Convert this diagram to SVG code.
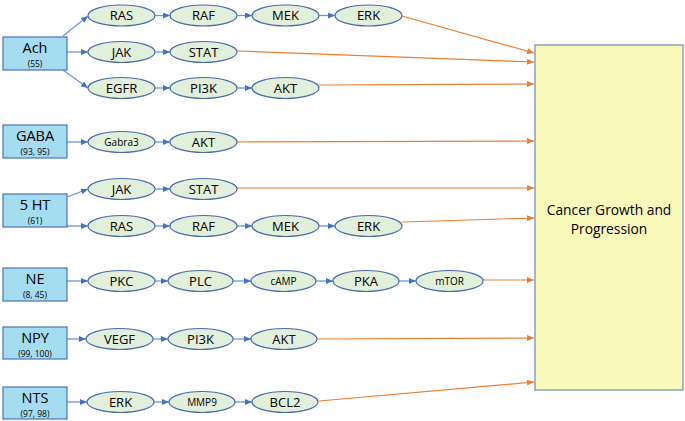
<svg xmlns="http://www.w3.org/2000/svg" width="685" height="421" viewBox="0 0 685 421">
<defs>
<marker id="ab" markerUnits="userSpaceOnUse" markerWidth="7" markerHeight="6" refX="7" refY="3" orient="auto"><path d="M0,0 L7,3 L0,6 z" fill="#4472c4"/></marker>
<marker id="ao" markerUnits="userSpaceOnUse" markerWidth="7" markerHeight="6" refX="7" refY="3" orient="auto"><path d="M0,0 L7,3 L0,6 z" fill="#ed7d31"/></marker>
</defs>
<style>
.src{fill:#a6dcef;stroke:#4a72b8;stroke-width:1.2}
.n{fill:#e2efda;stroke:#4a6aa8;stroke-width:1.2}
.t{font-family:"Open Sans","Liberation Sans",sans-serif;fill:#000;text-anchor:middle}
.big{font-size:14.5px}
.sm{font-size:8.5px}
.el{font-size:13px}
.els{font-size:10px}
.b{stroke:#6f93d6;stroke-width:1.3;fill:none;marker-end:url(#ab)}
.o{stroke:#ed7d31;stroke-width:1.2;fill:none;marker-end:url(#ao)}
</style>
<rect width="685" height="421" fill="#fff"/>
<g id="connectors">
<line class="b" x1="63" y1="36" x2="88" y2="16"/>
<line class="b" x1="67" y1="52" x2="88" y2="52"/>
<line class="b" x1="63" y1="70" x2="88" y2="88"/>
<line class="b" x1="155" y1="15.5" x2="170" y2="15.5"/>
<line class="b" x1="237" y1="15.5" x2="252" y2="15.5"/>
<line class="b" x1="319" y1="15.5" x2="335" y2="15.5"/>
<line class="b" x1="155" y1="52" x2="170" y2="52"/>
<line class="b" x1="155" y1="88" x2="170" y2="88"/>
<line class="b" x1="237" y1="88" x2="252" y2="88"/>
<line class="b" x1="67" y1="142" x2="88" y2="142"/>
<line class="b" x1="155" y1="142" x2="170" y2="142"/>
<line class="b" x1="67" y1="197" x2="88" y2="189"/>
<line class="b" x1="67" y1="226" x2="88" y2="226"/>
<line class="b" x1="155" y1="189" x2="170" y2="189"/>
<line class="b" x1="155" y1="226" x2="170" y2="226"/>
<line class="b" x1="237" y1="226" x2="252" y2="226"/>
<line class="b" x1="319" y1="226" x2="335" y2="226"/>
<line class="b" x1="67" y1="281" x2="88" y2="281"/>
<line class="b" x1="155" y1="281" x2="168" y2="281"/>
<line class="b" x1="233" y1="281" x2="251" y2="281"/>
<line class="b" x1="316" y1="281" x2="333" y2="281"/>
<line class="b" x1="399" y1="281" x2="416" y2="281"/>
<line class="b" x1="67" y1="339" x2="86" y2="339"/>
<line class="b" x1="153" y1="339" x2="168" y2="339"/>
<line class="b" x1="233" y1="339" x2="251" y2="339"/>
<line class="b" x1="67" y1="402" x2="87" y2="402"/>
<line class="b" x1="154" y1="402" x2="169" y2="402"/>
<line class="b" x1="235" y1="402" x2="252" y2="402"/>
<line class="o" x1="402" y1="16" x2="534" y2="53"/>
<line class="o" x1="237" y1="51" x2="534" y2="62"/>
<line class="o" x1="319" y1="85" x2="534" y2="84"/>
<line class="o" x1="237" y1="142" x2="534" y2="141"/>
<line class="o" x1="237" y1="188" x2="534" y2="188"/>
<line class="o" x1="402" y1="222" x2="534" y2="218"/>
<line class="o" x1="483" y1="280" x2="534" y2="280"/>
<line class="o" x1="317" y1="339" x2="534" y2="338"/>
<line class="o" x1="319" y1="401" x2="534" y2="382"/>
</g>
<g id="cancer"><rect x="535" y="45" width="148" height="345" fill="#f9f9b9" stroke="#6f87b5" stroke-width="1.2"/>
<text class="t" x="609" y="215" font-size="13.8">Cancer Growth and</text>
<text class="t" x="609" y="234" font-size="13.8">Progression</text></g>
<g id="ach"><rect class="src" x="3" y="37" width="64" height="33"/><text class="t big" x="35" y="52.5">Ach</text><text class="t sm" x="35" y="66.5">(55)</text></g>
<g id="gaba"><rect class="src" x="3" y="125" width="64" height="33"/><text class="t big" x="35" y="140.5">GABA</text><text class="t sm" x="35" y="154.5">(93, 95)</text></g>
<g id="ht5"><rect class="src" x="3" y="194" width="64" height="33"/><text class="t big" x="35" y="209.5">5 HT</text><text class="t sm" x="35" y="223.5">(61)</text></g>
<g id="ne"><rect class="src" x="3" y="268" width="64" height="33"/><text class="t big" x="35" y="283.5">NE</text><text class="t sm" x="35" y="297.5">(8, 45)</text></g>
<g id="npy"><rect class="src" x="3" y="327" width="64" height="32"/><text class="t big" x="35" y="342.5">NPY</text><text class="t sm" x="35" y="356.5">(99, 100)</text></g>
<g id="nts"><rect class="src" x="3" y="387" width="64" height="32"/><text class="t big" x="35" y="402.5">NTS</text><text class="t sm" x="35" y="416.5">(97, 98)</text></g>
<g id="ach-ras"><ellipse class="n" cx="121.5" cy="15.5" rx="33.5" ry="10.5"/><text class="t el" x="121.5" y="20">RAS</text></g>
<g id="ach-raf"><ellipse class="n" cx="203.5" cy="15.5" rx="33.5" ry="10.5"/><text class="t el" x="203.5" y="20">RAF</text></g>
<g id="ach-mek"><ellipse class="n" cx="285.5" cy="15.5" rx="33.5" ry="10.5"/><text class="t el" x="285.5" y="20">MEK</text></g>
<g id="ach-erk"><ellipse class="n" cx="368.5" cy="15.5" rx="33.5" ry="10.5"/><text class="t el" x="368.5" y="20">ERK</text></g>
<g id="ach-jak"><ellipse class="n" cx="121.5" cy="52" rx="33.5" ry="10.5"/><text class="t el" x="121.5" y="56.5">JAK</text></g>
<g id="ach-stat"><ellipse class="n" cx="203.5" cy="52" rx="33.5" ry="10.5"/><text class="t el" x="203.5" y="56.5">STAT</text></g>
<g id="ach-egfr"><ellipse class="n" cx="121.5" cy="88" rx="33.5" ry="10.5"/><text class="t el" x="121.5" y="92.5">EGFR</text></g>
<g id="ach-pi3k"><ellipse class="n" cx="203.5" cy="88" rx="33.5" ry="10.5"/><text class="t el" x="203.5" y="92.5">PI3K</text></g>
<g id="ach-akt"><ellipse class="n" cx="285.5" cy="88" rx="33.5" ry="10.5"/><text class="t el" x="285.5" y="92.5">AKT</text></g>
<g id="gaba-gabra3"><ellipse class="n" cx="121.5" cy="142" rx="33.5" ry="10.5"/><text class="t els" x="121.5" y="145.5">Gabra3</text></g>
<g id="gaba-akt"><ellipse class="n" cx="203.5" cy="142" rx="33.5" ry="10.5"/><text class="t el" x="203.5" y="146.5">AKT</text></g>
<g id="ht-jak"><ellipse class="n" cx="121.5" cy="189" rx="33.5" ry="10.5"/><text class="t el" x="121.5" y="193.5">JAK</text></g>
<g id="ht-stat"><ellipse class="n" cx="203.5" cy="189" rx="33.5" ry="10.5"/><text class="t el" x="203.5" y="193.5">STAT</text></g>
<g id="ht-ras"><ellipse class="n" cx="121.5" cy="226" rx="33.5" ry="10.5"/><text class="t el" x="121.5" y="230.5">RAS</text></g>
<g id="ht-raf"><ellipse class="n" cx="203.5" cy="226" rx="33.5" ry="10.5"/><text class="t el" x="203.5" y="230.5">RAF</text></g>
<g id="ht-mek"><ellipse class="n" cx="285.5" cy="226" rx="33.5" ry="10.5"/><text class="t el" x="285.5" y="230.5">MEK</text></g>
<g id="ht-erk"><ellipse class="n" cx="368.5" cy="226" rx="33.5" ry="10.5"/><text class="t el" x="368.5" y="230.5">ERK</text></g>
<g id="ne-pkc"><ellipse class="n" cx="121.5" cy="281" rx="33.5" ry="10.5"/><text class="t el" x="121.5" y="285.5">PKC</text></g>
<g id="ne-plc"><ellipse class="n" cx="200.5" cy="281" rx="32.5" ry="10.5"/><text class="t el" x="200.5" y="285.5">PLC</text></g>
<g id="ne-camp"><ellipse class="n" cx="283.5" cy="281" rx="32.5" ry="10.5"/><text class="t els" x="283.5" y="284.5" font-size="11">cAMP</text></g>
<g id="ne-pka"><ellipse class="n" cx="366" cy="281" rx="33" ry="10.5"/><text class="t el" x="366" y="285.5">PKA</text></g>
<g id="ne-mtor"><ellipse class="n" cx="449.5" cy="281" rx="33.5" ry="10.5"/><text class="t els" x="449.5" y="284.5" font-size="11">mTOR</text></g>
<g id="npy-vegf"><ellipse class="n" cx="119.5" cy="339" rx="33.5" ry="10.5"/><text class="t el" x="119.5" y="343.5">VEGF</text></g>
<g id="npy-pi3k"><ellipse class="n" cx="200.5" cy="339" rx="32.5" ry="10.5"/><text class="t el" x="200.5" y="343.5">PI3K</text></g>
<g id="npy-akt"><ellipse class="n" cx="284" cy="339" rx="33" ry="10.5"/><text class="t el" x="284" y="343.5">AKT</text></g>
<g id="nts-erk"><ellipse class="n" cx="120.5" cy="402" rx="33.5" ry="10.5"/><text class="t el" x="120.5" y="406.5">ERK</text></g>
<g id="nts-mmp9"><ellipse class="n" cx="202" cy="402" rx="33" ry="10.5"/><text class="t els" x="202" y="405.5">MMP9</text></g>
<g id="nts-bcl2"><ellipse class="n" cx="285" cy="402" rx="33" ry="10.5"/><text class="t el" x="285" y="406.5">BCL2</text></g>
</svg>
